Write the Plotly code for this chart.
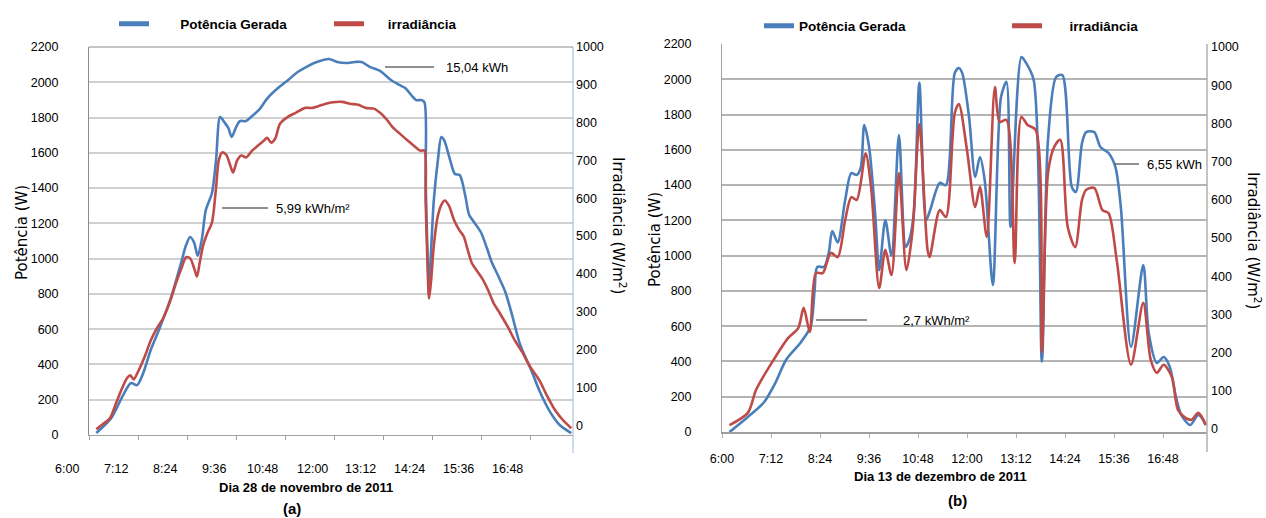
import plotly.graph_objects as go

# ---------------- (a) Dia 28 de novembro de 2011 ----------------
hora_pot_a = ["6:43","6:56","7:06","7:21","7:34","7:43","7:52","8:03","8:15","8:33","8:48","8:55","9:01","9:07","9:12","9:18",
              "9:24","9:33","9:39","9:45","9:51","9:57","10:02","10:08","10:14","10:23","10:32","10:42","10:55","11:10","11:25",
              "11:39","11:54","12:07","12:25","12:37","12:50","13:03","13:13","13:25","13:40","13:56","14:06","14:17","14:27",
              "14:33","14:40","14:45","14:47","14:50","14:52","14:55","14:59","15:05","15:10","15:14","15:23","15:30","15:37",
              "15:45","15:51","15:58","16:08","16:17","16:24","16:33","16:44","16:54","17:06","17:22","17:35","17:50","18:04","18:21"]
pot_a = [11,57,102,215,295,283,351,482,595,782,981,1077,1123,1089,1015,1106,
         1276,1372,1559,1803,1775,1741,1690,1741,1780,1780,1809,1843,1911,1967,2013,
         2058,2092,2115,2132,2115,2109,2115,2115,2087,2064,2013,1990,1967,1922,
         1899,1899,1888,1446,992,862,1049,1332,1559,1690,1673,1559,1480,1474,
         1361,1247,1208,1151,1060,981,907,811,680,510,369,244,130,57,11]

hora_irr_a = ["6:43","6:53","7:03","7:12","7:21","7:28","7:33","7:38","7:44","7:55","8:03","8:12","8:21","8:31","8:40","8:48",
              "8:55","9:01","9:07","9:11","9:15","9:20","9:26","9:33","9:39","9:43","9:48","9:54","10:00","10:04","10:10",
              "10:16","10:23","10:32","10:39","10:49","10:54","11:00","11:06","11:13","11:25","11:36","11:50","12:01","12:15",
              "12:28","12:44","12:56","13:08","13:19","13:31","13:40","13:49","13:58","14:09","14:21","14:31","14:39","14:45",
              "14:47","14:50","14:52","14:55","14:59","15:05","15:11","15:15","15:21","15:29","15:36","15:43","15:49","15:55",
              "16:02","16:10","16:19","16:27","16:36","16:48","16:58","17:09","17:20","17:34","17:45","17:57","18:09","18:21"]
irr_a = [-11,3,18,58,98,124,132,121,140,185,224,256,282,325,375,414,
         444,441,414,393,430,475,507,536,628,700,721,715,686,668,700,
         713,708,726,737,752,760,747,758,797,816,826,839,839,847,
         853,855,850,847,839,837,826,810,789,771,752,737,726,726,
         594,409,335,383,475,554,586,594,581,541,517,499,462,428,
         409,388,356,322,296,259,224,193,156,119,79,40,13,-8]

# ---------------- (b) Dia 13 de dezembro de 2011 ----------------
hora_pot_b = ["6:11","6:38","7:02","7:19","7:34","7:55","8:10","8:16","8:20","8:30","8:37","8:42","8:50","9:01","9:10","9:18",
              "9:24","9:29","9:36","9:45","9:51","10:00","10:09","10:20","10:30","10:36","10:42","10:50","11:00","11:06","11:20",
              "11:29","11:42","11:48","11:53","12:03","12:12","12:19","12:26","12:38","12:50","12:58","13:04","13:20","13:26",
              "13:38","13:50","13:59","14:11","14:20","14:34","14:40","14:49","14:55","15:07","15:16","15:28","15:38","15:46",
              "16:01","16:19","16:27","16:39","16:49","16:58","17:07","17:15","17:28","17:40","17:51"]
pot_b = [0,85,170,283,408,505,595,800,936,936,1020,1140,1075,1315,1468,1457,
         1500,1741,1620,1240,918,1202,1000,1684,1050,1100,1250,1980,1202,1260,1412,
         1400,2035,2064,2035,1786,1446,1559,1429,834,1900,1985,1163,2126,2098,
         1996,400,1656,2013,2024,1389,1361,1638,1700,1700,1616,1582,1503,1276,
         482,947,561,391,425,369,198,96,40,96,40]

hora_irr_b = ["6:11","6:38","6:50","7:13","7:37","7:52","8:00","8:09","8:18","8:28","8:40","8:50","9:01","9:10","9:18","9:31",
              "9:39","9:51","10:00","10:09","10:20","10:31","10:40","10:50","11:02","11:05","11:20","11:29","11:42","11:48","12:00",
              "12:12","12:19","12:29","12:41","12:48","12:58","13:10","13:20","13:29","13:41","13:50","13:59","14:08","14:17",
              "14:28","14:39","14:49","14:55","15:07","15:19","15:28","15:40","16:01","16:19","16:30","16:39","16:49","17:01",
              "17:10","17:21","17:30","17:40","17:51"]
irr_b = [10,42,102,173,238,264,317,254,408,408,461,450,547,607,600,722,
         634,369,469,403,670,416,520,798,469,450,573,555,827,851,730,
         581,634,503,895,804,809,434,817,796,783,202,670,738,757,
         529,476,600,626,631,573,565,442,168,330,181,147,168,136,
         50,29,24,42,10]

rotulos_hora = ["6:00", "7:12", "8:24", "9:36", "10:48", "12:00", "13:12", "14:24", "15:36", "16:48"]
ticks_pot = list(range(0, 2201, 200))
ticks_irr = list(range(0, 1001, 100))

AZUL = "#4A7EBB"
VERM = "#BE4B48"
FT = "Liberation Sans, Arial, sans-serif"
FTIT = "DejaVu Sans, Verdana, sans-serif"

def minutos(h):
    hh, mm = h.split(":")
    return int(hh) * 60 + int(mm)

rot_min = [minutos(r) for r in rotulos_hora]
passo = rot_min[1] - rot_min[0]

fig = go.Figure()
line_kw = dict(shape="spline", smoothing=0.8, width=2.6)

fig.add_trace(go.Scatter(x=[minutos(h) for h in hora_pot_a], y=pot_a, mode="lines",
                         line=dict(color=AZUL, **line_kw), xaxis="x", yaxis="y", showlegend=False))
fig.add_trace(go.Scatter(x=[minutos(h) for h in hora_irr_a], y=irr_a, mode="lines",
                         line=dict(color=VERM, **line_kw), xaxis="x", yaxis="y2", showlegend=False))
fig.add_trace(go.Scatter(x=[minutos(h) for h in hora_pot_b], y=pot_b, mode="lines",
                         line=dict(color=AZUL, **line_kw), xaxis="x2", yaxis="y3", showlegend=False))
fig.add_trace(go.Scatter(x=[minutos(h) for h in hora_irr_b], y=irr_b, mode="lines",
                         line=dict(color=VERM, **line_kw), xaxis="x2", yaxis="y4", showlegend=False))

# legend entries (non-breaking spaces reproduce the gap between sample line and text)
NB = "\u00a0"
for lg, xa, ya, pad1, pad2 in (("legend", "x", "y", NB * 7, NB * 5), ("legend2", "x2", "y3", "", NB * 6)):
    fig.add_trace(go.Scatter(x=[None], y=[None], mode="lines", name=pad1 + "<b>Potência Gerada</b>",
                             line=dict(color=AZUL, width=5), legend=lg, xaxis=xa, yaxis=ya))
    fig.add_trace(go.Scatter(x=[None], y=[None], mode="lines", name=pad2 + "<b>irradiância</b>",
                             line=dict(color=VERM, width=5), legend=lg, xaxis=xa, yaxis=ya))

W, H = 1266, 518
def px(x):
    return x / W
def py(y):
    return 1 - y / H

# chart geometry (pixels)
xa0, xa1, ya0, ya1 = 89, 573, 47, 435
xb0, xb1, yb0, yb1 = 722, 1207, 44, 432
# minutes per pixel from label spacing (49 px per 72 min)
mpp = passo / 49.0
ra = [rot_min[0] + (xa0 - 67) * mpp, rot_min[0] + (xa1 - 67) * mpp]
rb = [rot_min[0], rot_min[0] + (xb1 - xb0) * mpp]
tick_off = (xa0 - 67) * mpp

tickfont = dict(family=FT, size=12.5, color="#000000")

fig.update_layout(
    width=W, height=H, margin=dict(l=0, r=0, t=0, b=0, autoexpand=False),
    paper_bgcolor="white", plot_bgcolor="white",
    xaxis=dict(domain=[px(xa0), px(xa1)], range=ra, anchor="y",
               tickvals=[m + tick_off for m in rot_min], showticklabels=False,
               ticks="outside", ticklen=4, tickcolor="#A0A0A0",
               showgrid=False, zeroline=False, showline=True, linecolor="#A0A0A0", linewidth=1),
    yaxis=dict(domain=[py(ya1), py(ya0)], range=[0, 2200], tickvals=ticks_pot, anchor="x",
               showgrid=True, gridcolor="#D0D0D0", gridwidth=1.5, zeroline=False,
               showline=True, linecolor="#8C8C8C", linewidth=1, ticks="",
               tickfont=tickfont, ticklabelstandoff=27),
    yaxis2=dict(overlaying="y", side="right", anchor="x", range=[-26, 1000], tickvals=ticks_irr,
                showgrid=False, zeroline=False, showline=False, ticks="",
                tickfont=tickfont, ticklabelstandoff=2),
    xaxis2=dict(domain=[px(xb0), px(xb1)], range=rb, anchor="y3",
                tickvals=rot_min, ticktext=rotulos_hora, tickfont=tickfont,
                ticks="outside", ticklen=4, tickcolor="#B0B0B0", ticklabelstandoff=10,
                showgrid=False, zeroline=False, showline=True, linecolor="#A0A0A0", linewidth=1.5),
    yaxis3=dict(domain=[py(yb1), py(yb0)], range=[0, 2200], tickvals=ticks_pot, anchor="x2",
                showgrid=True, gridcolor="#B4B4B4", gridwidth=1.5, zeroline=False,
                showline=True, linecolor="#A0A0A0", linewidth=1, ticks="",
                tickfont=tickfont, ticklabelstandoff=27),
    yaxis4=dict(overlaying="y3", side="right", anchor="x2", range=[-8, 1008], tickvals=ticks_irr,
                showgrid=False, zeroline=False, showline=False, ticks="",
                tickfont=tickfont, ticklabelstandoff=3),
    legend=dict(orientation="h", x=px(114), y=py(24), xanchor="left", yanchor="middle",
                font=dict(family=FT, size=13.5, color="#000000"), entrywidth=170, itemwidth=30,
                bgcolor="rgba(0,0,0,0)"),
    legend2=dict(orientation="h", x=px(759), y=py(26), xanchor="left", yanchor="middle",
                 font=dict(family=FT, size=13.5, color="#000000"), entrywidth=203, itemwidth=30,
                 bgcolor="rgba(0,0,0,0)"),
)

def paper_x_a(m):
    return px(xa0) + (m - ra[0]) / (ra[1] - ra[0]) * (px(xa1) - px(xa0))

anns = []
# left chart x tick labels (centred between tick marks, first one left of the axis)
for m, r in zip(rot_min, rotulos_hora):
    anns.append(dict(x=paper_x_a(m), y=py(469), xref="paper", yref="paper", text=r, showarrow=False,
                     font=tickfont, xanchor="center", yanchor="middle"))
# axis titles
tfont = dict(family=FTIT, size=15, color="#000")
anns += [
    dict(x=px(22), y=py(233), xref="paper", yref="paper", text="Potência (W)", textangle=-90,
         showarrow=False, font=tfont, xanchor="center", yanchor="middle"),
    dict(x=px(619), y=py(225), xref="paper", yref="paper", text="Irradiância (W/m<sup>2</sup>)", textangle=90,
         showarrow=False, font=tfont, xanchor="center", yanchor="middle"),
    dict(x=px(655), y=py(240), xref="paper", yref="paper", text="Potência (W)", textangle=-90,
         showarrow=False, font=tfont, xanchor="center", yanchor="middle"),
    dict(x=px(1254), y=py(240), xref="paper", yref="paper", text="Irradiância (W/m<sup>2</sup>)", textangle=90,
         showarrow=False, font=tfont, xanchor="center", yanchor="middle"),
    dict(x=px(306), y=py(487), xref="paper", yref="paper", text="<b>Dia 28 de novembro de 2011</b>",
         showarrow=False, font=dict(family=FT, size=13, color="#000"), xanchor="center", yanchor="middle"),
    dict(x=px(940), y=py(476), xref="paper", yref="paper", text="<b>Dia 13 de dezembro de 2011</b>",
         showarrow=False, font=dict(family=FT, size=13, color="#000"), xanchor="center", yanchor="middle"),
    dict(x=px(292), y=py(508), xref="paper", yref="paper", text="<b>(a)</b>",
         showarrow=False, font=dict(family=FT, size=15, color="#000"), xanchor="center", yanchor="middle"),
    dict(x=px(957), y=py(500), xref="paper", yref="paper", text="<b>(b)</b>",
         showarrow=False, font=dict(family=FT, size=15, color="#000"), xanchor="center", yanchor="middle"),
]
# energy callouts
ann_font = dict(family=FT, size=13, color="#000")
callouts = [
    ("x", "y", "15,04 kWh", 385, 434, 444, 67, "a"),
    ("x", "y", "5,99 kWh/m²", 222, 268, 274, 208, "a"),
    ("x2", "y3", "6,55 kWh", 1115, 1139, 1145, 164, "b"),
    ("x2", "y3", "2,7 kWh/m²", 816, 867, 901, 320, "b"),
]
shapes = []
for xr, yr, txt, l0, l1, tx, yy, ch in callouts:
    if ch == "a":
        conv = lambda p: rot_min[0] + (p - 67) * mpp
        yv = (ya1 - yy) * 2200 / (ya1 - ya0)
    else:
        conv = lambda p: rot_min[0] + (p - xb0) * mpp
        yv = (yb1 - yy) * 2200 / (yb1 - yb0)
    shapes.append(dict(type="line", xref=xr, yref=yr, x0=conv(l0), x1=conv(l1), y0=yv, y1=yv,
                       line=dict(color="#222222", width=1)))
    anns.append(dict(x=conv(tx), y=yv, xref=xr, yref=yr, text=txt, showarrow=False,
                     font=ann_font, xanchor="left", yanchor="middle"))

# secondary axis lines (extend below plot area)
shapes.append(dict(type="line", xref="paper", yref="paper", x0=px(xa1), x1=px(xa1), y0=py(453), y1=py(ya0),
                   line=dict(color="#9DB9DC", width=1)))
shapes.append(dict(type="line", xref="paper", yref="paper", x0=px(xb1), x1=px(xb1), y0=py(452), y1=py(yb0),
                   line=dict(color="#B0B0B0", width=1.5)))
# top border of left chart
shapes.append(dict(type="line", xref="paper", yref="paper", x0=px(xa0), x1=px(xa1), y0=py(ya0), y1=py(ya0),
                   line=dict(color="#8C8C8C", width=1)))

fig.update_layout(annotations=anns, shapes=shapes)
fig.write_html("out.html", config={"displayModeBar": False},
               post_script="document.body.style.margin='0';")
